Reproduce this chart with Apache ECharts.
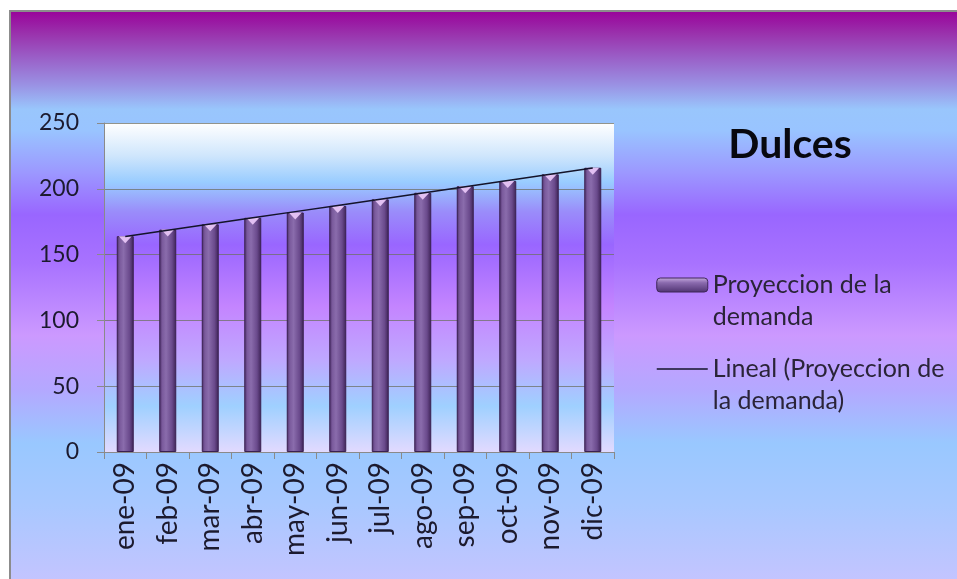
<!DOCTYPE html>
<html>
<head>
<meta charset="utf-8">
<script src="https://cdn.jsdelivr.net/npm/echarts@6/dist/echarts.min.js"></script>
<style>
  html, body { margin: 0; padding: 0; background: #ffffff; }
  #chart { width: 957px; height: 579px; }
</style>
</head>
<body>
<div id="chart"></div>
<script>
// Monthly demand projection for sweets (2009)
const months = ['ene-09', 'feb-09', 'mar-09', 'abr-09', 'may-09', 'jun-09',
                'jul-09', 'ago-09', 'sep-09', 'oct-09', 'nov-09', 'dic-09'];
const demand = [164, 169, 173, 178, 182, 187, 192, 197, 202, 206, 211, 216];
const yTicks = [0, 50, 100, 150, 200, 250];

const barName = 'Proyeccion de la demanda';
const trendName = 'Lineal (Proyeccion de la demanda)';
// Leading blank line keeps the first text line level with the legend icon
const legendText = {
  [barName]: '\nProyeccion de la\ndemanda',
  [trendName]: '\nLineal (Proyeccion de\nla demanda)'
};

// Least-squares linear trend over the monthly values
function linearTrend(values) {
  const n = values.length;
  let sx = 0, sy = 0, sxy = 0, sxx = 0;
  values.forEach((v, i) => { sx += i; sy += v; sxy += i * v; sxx += i * i; });
  const slope = (n * sxy - sx * sy) / (n * sxx - sx * sx);
  const icpt = (sy - slope * sx) / n;
  return values.map((_, i) => +(icpt + slope * i).toFixed(2));
}
const trend = linearTrend(demand);

const G = echarts.graphic.LinearGradient;
const FONT = 'Lato';
const TEXT = '#1c1a2e';
const LINE_COLOR = '#14142a';

const chart = echarts.init(document.getElementById('chart'), null, { renderer: 'canvas' });

chart.setOption({
  animation: false,
  backgroundColor: '#ffffff',
  graphic: [{
    type: 'rect',
    z: -10,
    silent: true,
    shape: { x: 10, y: 11, width: 980, height: 600 },
    style: {
      fill: new G(0, 0, 0, 1, [
        { offset: 0.00, color: '#990099' },
        { offset: 0.04, color: '#9a33ad' },
        { offset: 0.08, color: '#9a60c8' },
        { offset: 0.125, color: '#9a92e4' },
        { offset: 0.165, color: '#99c6fc' },
        { offset: 0.20, color: '#99c4ff' },
        { offset: 0.27, color: '#9c98ff' },
        { offset: 0.34, color: '#9966ff' },
        { offset: 0.42, color: '#a872ff' },
        { offset: 0.54, color: '#cc99ff' },
        { offset: 0.63, color: '#b4a8ff' },
        { offset: 0.72, color: '#99c8ff' },
        { offset: 0.82, color: '#a8c8ff' },
        { offset: 0.96, color: '#c6c4ff' },
        { offset: 1.00, color: '#c8c6ff' }
      ]),
      stroke: '#8c8c8c',
      lineWidth: 2
    }
  }],
  title: {
    text: 'Dulces',
    left: 790,
    top: 124,
    textAlign: 'center',
    padding: 0,
    textStyle: { fontFamily: FONT, fontSize: 41, fontWeight: 'bold', color: '#08080f' }
  },
  legend: {
    orient: 'vertical',
    left: 656,
    top: 237,
    padding: 0,
    itemGap: -12,
    itemWidth: 51,
    itemHeight: 14,
    selectedMode: false,
    formatter: name => legendText[name],
    textStyle: {
      fontFamily: FONT, fontSize: 25, color: '#2a2438', lineHeight: 32
    },
    data: [
      {
        name: barName,
        icon: 'roundRect',
        itemStyle: {
          color: new G(0, 0, 0, 1, [
            { offset: 0, color: '#c8aee0' },
            { offset: 0.35, color: '#8a6aae' },
            { offset: 1, color: '#4e3270' }
          ]),
          borderColor: '#3e2658',
          borderWidth: 1
        }
      },
      {
        name: trendName,
        itemStyle: { opacity: 0 },
        lineStyle: { color: LINE_COLOR, width: 1.5 }
      }
    ]
  },
  grid: {
    left: 104, right: 343, top: 123, bottom: 127,
    show: true,
    borderWidth: 0,
    backgroundColor: new G(0, 0, 0, 1, [
      { offset: 0.00, color: '#ffffff' },
      { offset: 0.10, color: '#cfe6fc' },
      { offset: 0.18, color: '#99ccff' },
      { offset: 0.27, color: '#9a8cfa' },
      { offset: 0.37, color: '#9966ff' },
      { offset: 0.56, color: '#c485ff' },
      { offset: 0.72, color: '#bfa8ff' },
      { offset: 0.86, color: '#9fd0ff' },
      { offset: 1.00, color: '#e2daff' }
    ])
  },
  xAxis: {
    type: 'category',
    data: months,
    boundaryGap: true,
    axisLine: { lineStyle: { color: '#8a8a8a', width: 1 } },
    axisTick: { show: true, length: 7, lineStyle: { color: '#8a8a8a' } },
    axisLabel: {
      rotate: 90, margin: 10, interval: 0,
      fontFamily: FONT, fontSize: 28, color: TEXT
    }
  },
  yAxis: {
    type: 'value',
    min: yTicks[0],
    max: yTicks[yTicks.length - 1],
    interval: yTicks[1] - yTicks[0],
    axisLine: { show: true, lineStyle: { color: '#8a8a8a', width: 1 } },
    axisTick: { show: true, length: 7, lineStyle: { color: '#8a8a8a' } },
    axisLabel: { margin: 25, fontFamily: FONT, fontSize: 23, color: TEXT },
    splitLine: { show: true, lineStyle: { color: 'rgba(110,112,100,0.75)', width: 1 } }
  },
  series: [
    {
      name: barName,
      type: 'bar',
      data: demand,
      barWidth: 17,
      itemStyle: {
        color: new G(0, 0, 1, 0, [
          { offset: 0.00, color: '#4a2c66' },
          { offset: 0.18, color: '#7a5a9c' },
          { offset: 0.40, color: '#8a6cac' },
          { offset: 0.75, color: '#6a4a8c' },
          { offset: 1.00, color: '#3c2254' }
        ]),
        borderColor: '#3a2050',
        borderWidth: 1
      }
    },
    {
      name: barName + ' tope',
      type: 'pictorialBar',
      data: demand,
      symbol: 'triangle',
      symbolRotate: 180,
      symbolSize: [13, 7],
      symbolPosition: 'end',
      z: 5,
      silent: true,
      itemStyle: { color: '#e2c0f2' }
    },
    {
      name: trendName,
      type: 'line',
      data: trend,
      symbol: 'none',
      z: 6,
      lineStyle: { color: LINE_COLOR, width: 1.5 },
      itemStyle: { color: LINE_COLOR }
    }
  ]
});
</script>
</body>
</html>
